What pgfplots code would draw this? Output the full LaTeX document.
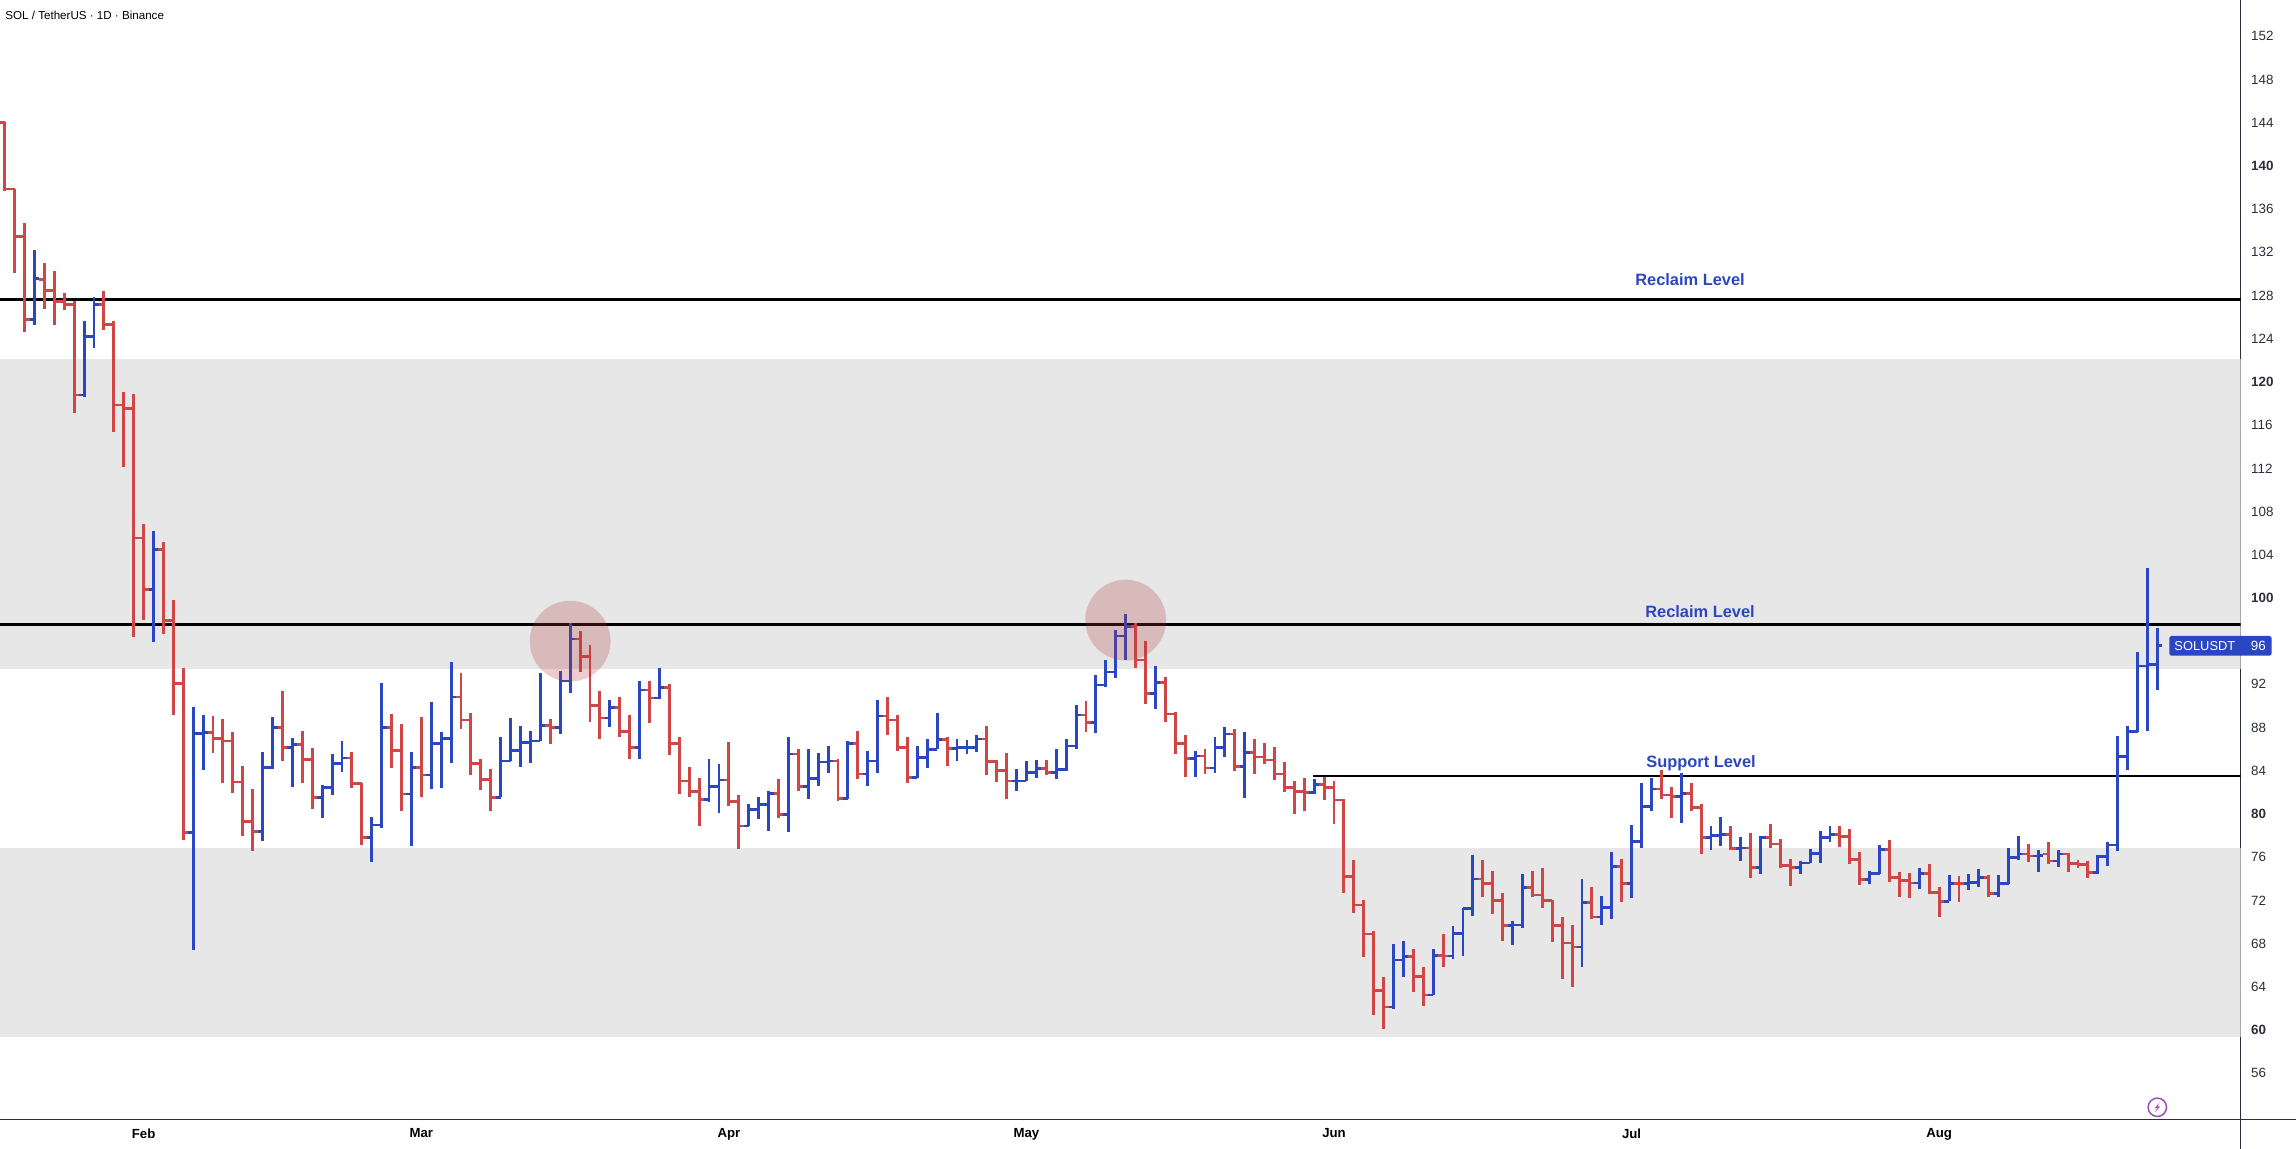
\documentclass[border=0pt]{standalone}
\usepackage{fontspec}
\setmainfont{Liberation Sans}
\usepackage{pgfplots}
\usepackage{pgfplotstable}
\pgfplotsset{compat=1.18}
\definecolor{upc}{HTML}{2A46C2}
\definecolor{dnc}{HTML}{D04545}
\definecolor{band}{HTML}{E7E7E7}
\definecolor{circ}{HTML}{B2353A}
\definecolor{tick}{HTML}{2A2E39}
\definecolor{bolt}{HTML}{9A4FC0}
\pgfplotstableread{
i o h l c
0 144.0 144.1 137.7 137.87
1 137.87 137.9 130.06 133.5
2 133.5 134.7 124.66 125.8
3 125.8 132.2 125.3 129.6
4 129.5 131.0 126.76 128.45
5 128.45 130.3 125.3 127.47
6 127.47 128.2 126.67 127.2
7 127.2 127.5 117.16 118.8
8 118.8 125.68 118.58 124.2
9 124.2 127.9 123.1 127.2
10 127.2 128.45 124.8 125.3
11 125.3 125.6 115.37 117.87
12 117.87 119.1 112.1 117.56
13 117.56 118.9 96.36 105.56
14 105.56 106.82 97.96 100.8
15 100.8 106.2 95.9 104.5
16 104.5 105.22 96.64 97.93
17 97.93 99.82 89.2 92.1
18 92.1 93.5 77.6 78.3
19 78.3 89.93 67.4 87.46
20 87.46 89.2 84.1 87.56
21 87.56 89.1 85.67 86.97
22 86.97 88.76 82.83 86.75
23 86.75 87.56 81.9 82.96
24 82.96 84.47 78.0 79.29
25 79.29 82.34 76.6 78.36
26 78.36 85.7 77.5 84.3
27 84.3 88.95 84.2 87.99
28 87.99 91.35 84.87 86.17
29 86.17 87.0 82.5 86.4
30 86.4 87.71 82.83 85.06
31 85.06 86.14 80.46 81.54
32 81.54 82.68 79.6 82.46
33 82.46 85.52 81.72 84.66
34 84.66 86.75 83.9 85.18
35 85.18 85.7 82.4 82.83
36 82.83 82.83 77.09 77.83
37 77.83 79.69 75.58 78.98
38 78.98 92.16 78.73 87.99
39 87.99 89.3 84.25 85.86
40 85.86 88.33 80.3 81.85
41 81.85 85.7 77.03 84.3
42 84.3 88.95 81.6 83.6
43 83.6 90.37 82.34 86.54
44 86.54 87.56 82.4 86.97
45 86.97 94.07 84.69 90.83
46 90.83 93.02 87.9 88.7
47 88.7 89.38 83.58 84.66
48 84.66 85.12 82.25 83.2
49 83.2 84.19 80.24 81.54
50 81.54 87.09 81.54 84.9
51 84.9 88.88 84.87 85.86
52 85.86 88.14 84.38 86.6
53 86.6 87.71 84.69 86.75
54 86.75 93.03 86.73 88.21
55 88.21 88.77 86.49 88.0
56 88.0 93.27 87.38 92.32
57 92.32 97.72 91.18 96.2
58 96.2 96.98 93.12 94.6
59 94.6 95.65 88.52 90.03
60 90.03 91.42 86.95 88.89
61 88.89 90.56 88.09 89.85
62 89.85 90.87 87.1 87.6
63 87.6 89.2 85.1 86.15
64 86.15 92.32 85.1 91.48
65 91.48 92.32 88.4 90.74
66 90.74 93.55 90.65 91.73
67 91.73 92.07 85.43 86.52
68 86.52 87.1 81.83 83.06
69 83.06 84.39 81.61 82.1
70 82.1 83.31 78.89 81.36
71 81.36 85.07 81.11 82.53
72 82.53 84.63 80.06 83.15
73 83.15 86.67 80.74 81.15
74 81.15 81.79 76.73 78.89
75 78.89 80.93 78.89 80.43
76 80.43 81.6 79.5 80.84
77 80.84 82.16 78.46 81.92
78 81.92 83.2 79.63 79.94
79 79.94 87.1 78.37 85.56
80 85.56 85.99 82.16 82.53
81 82.53 86.05 81.36 83.31
82 83.31 85.68 82.6 84.82
83 84.82 86.33 83.77 84.91
84 84.91 85.07 81.2 81.42
85 81.42 86.79 81.39 86.52
86 86.52 87.72 83.2 83.7
87 83.7 85.87 82.6 84.91
88 84.91 90.56 83.77 89.08
89 89.08 90.81 87.29 88.7
90 88.7 89.2 85.8 86.17
91 86.17 87.16 82.9 83.4
92 83.4 86.3 83.33 85.25
93 85.25 86.92 84.26 85.99
94 85.99 89.39 85.99 86.86
95 86.86 87.16 84.45 86.05
96 86.05 86.98 84.91 86.15
97 86.15 86.86 85.53 86.15
98 86.15 87.35 85.77 86.95
99 86.95 88.15 83.58 84.85
100 84.85 85.0 82.97 84.05
101 84.05 85.62 81.36 83.06
102 83.06 84.14 82.16 83.06
103 83.06 84.88 83.06 83.83
104 83.83 85.0 83.34 84.2
105 84.2 85.0 83.58 83.86
106 83.86 85.99 83.2 84.14
107 84.14 86.98 84.02 86.3
108 86.3 90.1 86.05 89.17
109 89.17 90.5 87.63 88.46
110 88.46 92.84 87.53 91.95
111 91.95 94.26 91.79 93.15
112 93.15 97.04 92.57 96.48
113 96.48 98.52 94.26 97.35
114 97.35 97.72 93.55 94.26
115 94.26 95.99 90.19 91.18
116 91.18 93.74 89.76 92.16
117 92.16 92.72 88.52 89.26
118 89.26 89.48 85.53 86.52
119 86.52 87.35 83.46 85.16
120 85.16 85.87 83.46 85.37
121 85.37 86.05 83.68 84.26
122 84.26 87.1 83.83 86.15
123 86.15 88.09 85.25 87.41
124 87.41 87.87 83.95 84.39
125 84.39 87.56 81.45 85.71
126 85.71 86.98 83.68 85.28
127 85.28 86.55 84.63 85.0
128 85.0 86.24 83.15 83.7
129 83.7 84.85 82.07 82.47
130 82.47 83.06 79.97 82.07
131 82.07 83.3 80.28 82.0
132 82.0 83.24 81.82 82.75
133 82.75 83.46 81.3 82.44
134 82.44 83.09 79.07 81.3
135 81.3 81.36 72.72 74.23
136 74.23 75.74 70.86 71.57
137 71.57 72.04 66.79 68.89
138 68.89 69.2 61.42 63.67
139 63.67 64.94 60.09 62.13
140 62.13 67.93 61.94 66.48
141 66.48 68.21 64.94 66.79
142 66.79 67.5 63.52 64.97
143 64.97 65.8 62.25 63.24
144 63.24 67.5 63.21 66.88
145 66.88 68.86 65.86 66.85
146 66.85 69.63 66.54 68.95
147 68.95 71.27 66.85 71.27
148 71.27 76.17 70.59 73.98
149 73.98 75.74 72.28 73.55
150 73.55 74.75 70.74 71.98
151 71.98 72.72 68.21 69.66
152 69.66 70.12 67.87 69.72
153 69.72 74.41 69.41 73.18
154 73.18 74.75 72.31 72.5
155 72.5 75.03 71.27 71.98
156 71.98 72.04 68.12 69.66
157 69.66 70.49 64.69 68.06
158 68.06 69.69 63.95 67.69
159 67.69 73.95 65.8 71.82
160 71.82 73.24 70.25 70.46
161 70.46 72.44 69.72 71.33
162 71.33 76.51 70.31 75.12
163 75.12 75.86 71.82 73.58
164 73.58 78.98 72.19 77.44
165 77.44 82.84 76.82 80.68
166 80.68 83.3 80.31 82.31
167 82.31 84.07 81.36 81.76
168 81.76 82.53 79.6 81.6
169 81.6 83.77 79.2 81.91
170 81.91 82.9 80.31 80.59
171 80.59 80.9 76.27 77.84
172 77.84 78.89 76.67 78.0
173 78.0 79.69 77.04 78.09
174 78.09 78.89 76.67 76.79
175 76.79 77.84 75.62 76.85
176 76.85 78.27 74.04 75.03
177 75.03 78.0 74.48 77.84
178 77.84 79.1 76.88 77.22
179 77.22 77.65 75.03 75.22
180 75.22 75.8 73.33 75.03
181 75.03 75.68 74.48 75.46
182 75.46 76.79 75.43 76.36
183 76.36 78.46 75.43 77.84
184 77.84 78.92 77.38 78.09
185 78.09 78.89 76.91 77.93
186 77.93 78.64 75.34 75.8
187 75.8 76.51 73.43 73.95
188 73.95 74.75 73.49 74.48
189 74.48 77.13 74.41 76.73
190 76.73 77.56 73.67 74.14
191 74.14 74.66 72.35 73.83
192 73.83 74.57 72.25 73.61
193 73.61 75.0 73.06 74.48
194 74.48 75.37 72.56 72.75
195 72.75 73.27 70.49 71.91
196 71.91 74.38 71.91 73.58
197 73.58 74.29 71.88 73.55
198 73.55 74.48 72.96 73.67
199 73.67 74.94 73.24 74.1
200 74.1 74.38 72.28 72.6
201 72.6 74.38 72.35 73.58
202 73.58 76.88 73.52 75.99
203 75.99 77.93 75.74 76.3
204 76.3 77.22 75.55 76.11
205 76.11 76.67 74.6 76.12
206 76.3 77.38 75.34 75.65
207 75.65 76.67 75.12 76.3
208 76.3 76.42 74.66 75.43
209 75.43 75.74 74.97 75.34
210 75.34 75.65 74.04 74.6
211 74.6 76.2 74.44 76.05
212 76.05 77.44 75.17 77.13
213 77.13 87.25 76.6 85.31
214 85.31 88.15 84.07 87.62
215 87.62 95.03 87.56 93.7
216 93.7 102.81 87.72 93.86
217 93.86 97.25 91.48 95.59
}\ohlc
\pgfplotsset{
  barstem/.style={forget plot, draw=none, mark=none, unbounded coords=discard,
    error bars/.cd, y dir=both, y explicit, error mark=none,
    error bar style={line width=1.45pt, color=#1}},
  bartick/.style={forget plot, draw=none, mark=none, unbounded coords=discard,
    error bars/.cd, x dir=both, x explicit, error mark=none,
    error bar style={line width=1.4pt, color=#1}}
}
\begin{document}
\begin{tikzpicture}[x=1pt,y=1pt]
\path[use as bounding box] (0,-14.75) rectangle (1148,559.75);
\begin{axis}[
  at={(0,0)}, anchor=south west, scale only axis,
  width=1120.35pt, height=559.75pt,
  xmin=-0.474, xmax=225.4, ymin=51.71, ymax=155.37,
  axis x line=bottom, axis y line=right,
  axis line style={-, line width=0.6pt, color=tick},
  tick style={draw=none}, major tick length=0pt,
  xtick={14,42,73,103,134,164,195},
  xticklabels={\textbf{Feb},\textbf{Mar},\textbf{Apr},\textbf{May},\textbf{Jun},\textbf{Jul},\textbf{Aug}},
  ytick={56,60,64,68,72,76,80,84,88,92,100,104,108,112,116,120,124,128,132,136,140,144,148,152},
  yticklabels={56,\textbf{60},64,68,72,76,\textbf{80},84,88,92,\textbf{100},104,108,112,116,\textbf{120},124,128,132,136,\textbf{140},144,148,152},
  xticklabel style={font=\fontsize{6.6}{8}\selectfont, inner sep=0pt, yshift=-4.4pt, text=black},
  yticklabel style={font=\fontsize{6.7}{8}\selectfont, inner sep=0pt, anchor=west, xshift=5pt, text=tick},
  clip=true, axis on top=false,
]
% shaded zones
\addplot[forget plot, draw=none, fill=band] coordinates {(-0.474,122.13)(225.4,122.13)(225.4,93.42)(-0.474,93.42)} -- cycle;
\addplot[forget plot, draw=none, fill=band] coordinates {(-0.474,76.82)(225.4,76.82)(225.4,59.38)(-0.474,59.38)} -- cycle;
% highlighted rejections
\addplot[forget plot, only marks, mark=*, mark size=20.2pt, mark options={draw=circ, draw opacity=0, fill=circ, fill opacity=0.25}] coordinates {(57,96.0)(113,97.95)};
% levels
\addplot[forget plot, black, line width=1.3pt] coordinates {(-0.474,127.65)(225.4,127.65)};
\addplot[forget plot, black, line width=1.3pt] coordinates {(-0.474,97.53)(225.4,97.53)};
\addplot[forget plot, black, line width=1.0pt] coordinates {(131.9,83.55)(225.4,83.55)};
% up bars
\addplot+[barstem=upc] table[x=i, y expr={\thisrow{c}>=\thisrow{o} ? \thisrow{h} : nan}, y error plus expr=0, y error minus expr=\thisrow{h}-\thisrow{l}] {\ohlc};
\addplot+[bartick=upc] table[x=i, y expr={\thisrow{c}>=\thisrow{o} ? \thisrow{o} : nan}, x error plus expr=0, x error minus expr=0.5] {\ohlc};
\addplot+[bartick=upc] table[x=i, y expr={\thisrow{c}>=\thisrow{o} ? \thisrow{c} : nan}, x error plus expr=0.5, x error minus expr=0] {\ohlc};
% down bars
\addplot+[barstem=dnc] table[x=i, y expr={\thisrow{c}<\thisrow{o} ? \thisrow{h} : nan}, y error plus expr=0, y error minus expr=\thisrow{h}-\thisrow{l}] {\ohlc};
\addplot+[bartick=dnc] table[x=i, y expr={\thisrow{c}<\thisrow{o} ? \thisrow{o} : nan}, x error plus expr=0, x error minus expr=0.5] {\ohlc};
\addplot+[bartick=dnc] table[x=i, y expr={\thisrow{c}<\thisrow{o} ? \thisrow{c} : nan}, x error plus expr=0.5, x error minus expr=0] {\ohlc};
\end{axis}
% scale frame extensions
\draw[line width=0.6pt, color=tick] (1120.35,0) -- (1120.35,-14.75);
\draw[line width=0.6pt, color=tick] (1120.35,0) -- (1148,0);
% annotations (pt = px/2, from the top of the axis)
\node[anchor=west, inner sep=0pt, font=\fontsize{5.8}{8}\selectfont, text=black] at (2.5,552.25) {SOL / TetherUS · 1D · Binance};
\node[inner sep=0pt, font=\fontsize{8.2}{10}\selectfont\bfseries, text=upc] at (845,420) {Reclaim Level};
\node[inner sep=0pt, font=\fontsize{8.2}{10}\selectfont\bfseries, text=upc] at (850,253.75) {Reclaim Level};
\node[inner sep=0pt, font=\fontsize{8.2}{10}\selectfont\bfseries, text=upc] at (850.5,178.3) {Support Level};
% last-price tag
\fill[upc, rounded corners=0.9pt] (1084.65,241.75) rectangle (1135.85,231.9);
\node[anchor=west, inner sep=0pt, text=white, font=\fontsize{6.45}{8}\selectfont] at (1087,236.8) {SOLUSDT};
\node[anchor=west, inner sep=0pt, text=white, font=\fontsize{6.7}{8}\selectfont] at (1125.2,236.8) {96};
% bolt icon
\draw[bolt, line width=0.75pt] (1078.65,6.1) circle (4.6pt);
\fill[bolt] (1079.9,8.6) -- (1077.3,5.7) -- (1078.6,5.7) -- (1077.4,3.6) -- (1080,6.5) -- (1078.7,6.5) -- cycle;
\end{tikzpicture}
\end{document}
